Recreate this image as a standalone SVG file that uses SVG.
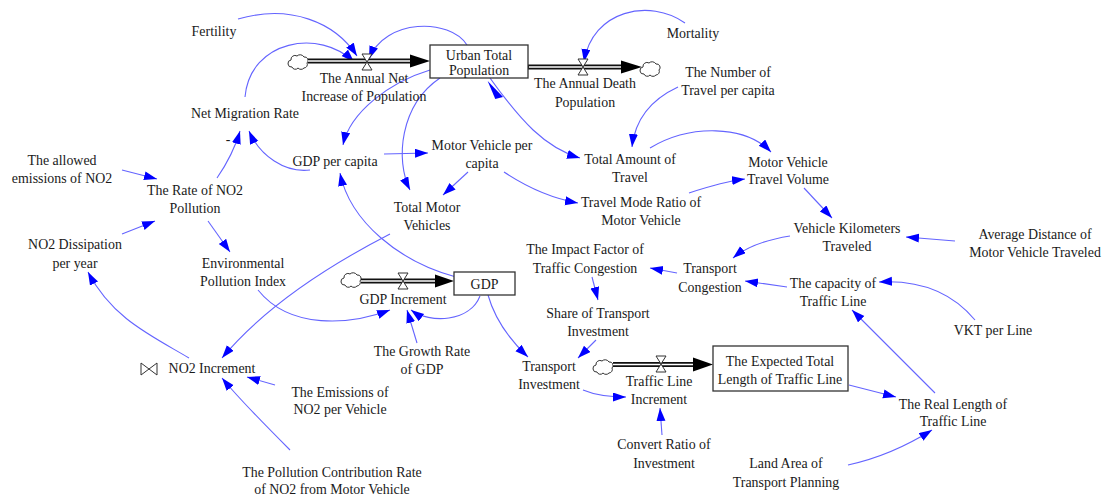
<svg xmlns="http://www.w3.org/2000/svg" width="1107" height="500" viewBox="0 0 1107 500">
<style>
text{font-family:"Liberation Serif","Times New Roman",serif;font-size:13.9px;fill:#1a1a1a;text-anchor:middle}
.lk{fill:none;stroke:#6464ff;stroke-width:1.1;marker-end:url(#ah)}
.box{fill:#fff;stroke:#333;stroke-width:1.3}
.pipeo{fill:none;stroke:#111;stroke-width:5}
.pipei{fill:none;stroke:#fff;stroke-width:1.6}
.valve{fill:#fff;stroke:#333;stroke-width:1}
.cloud{fill:#fff;stroke:#333;stroke-width:1}
.fa{fill:#000}
</style>
<defs>
<marker id="ah" markerUnits="userSpaceOnUse" markerWidth="14" markerHeight="10" refX="13" refY="4.5" orient="auto">
<path d="M0,0 L13,4.5 L0,9 Z" fill="#0000ff"/>
</marker>
<path id="cl" class="cloud" d="M-7,5 a3.5,3.5 0 0 1 -1,-7 a4,4 0 0 1 6,-4 a4.5,4.5 0 0 1 7,1 a3.5,3.5 0 0 1 3,6 a3.5,3.5 0 0 1 -3,5 a4,4 0 0 1 -6,0 a3.5,3.5 0 0 1 -6,-1 Z"/>
<path id="vl" class="valve" d="M-5,-8 H5 L-5,8 H5 Z"/>
</defs>

<g id="connectors">
<path class="lk" d="M238,19 C290,4 335,22 357,56"/>
<path class="lk" d="M245,97 C250,40 320,28 354,62"/>
<path class="lk" d="M467,45 C450,18 385,18 369,59"/>
<path class="lk" d="M685,23 C650,-2 592,10 584,62"/>
<path class="lk" d="M490,78 C520,120 545,148 580,158"/>
<path d="M489,80 L502,98 L494,99 Z" fill="#0000ff" transform="rotate(-8 495 90)"/>
<path class="lk" d="M430,70 C390,82 350,112 343,145"/>
<path class="lk" d="M440,78 C400,105 395,160 410,190"/>
<path class="lk" d="M384,154 L428,153"/>
<path class="lk" d="M310,170 C285,173 260,156 249,131"/>
<path class="lk" d="M217,178 C226,165 235,148 240,131"/>
<path class="lk" d="M122,170 L157,179"/>
<path class="lk" d="M122,234 L155,221"/>
<path class="lk" d="M208,221 L230,252"/>
<path class="lk" d="M189,358 C150,335 112,318 88,272"/>
<path class="lk" d="M258,290 C290,330 350,325 390,310"/>
<path class="lk" d="M390,234 C320,270 262,310 222,358"/>
<path class="lk" d="M275,385 L247,377"/>
<path class="lk" d="M290,450 C265,425 240,400 222,378"/>
<path class="lk" d="M456,277 C400,262 350,222 340,173"/>
<path class="lk" d="M480,296 C470,322 430,324 411,310"/>
<path class="lk" d="M417,343 L407,310"/>
<path class="lk" d="M488,295 C495,320 510,340 528,357"/>
<path class="lk" d="M596,340 L578,358"/>
<path class="lk" d="M592,277 L598,300"/>
<path class="lk" d="M677,273 L650,268"/>
<path class="lk" d="M790,236 C765,240 745,248 733,258"/>
<path class="lk" d="M787,287 L745,281"/>
<path class="lk" d="M955,241 L906,237"/>
<path class="lk" d="M804,188 L832,218"/>
<path class="lk" d="M689,193 C710,186 728,181 745,179"/>
<path class="lk" d="M650,148 C690,124 745,125 771,152"/>
<path class="lk" d="M678,87 C650,100 635,120 632,147"/>
<path class="lk" d="M468,172 L443,195"/>
<path class="lk" d="M504,172 C525,186 550,198 578,203"/>
<path class="lk" d="M848,465 C880,458 905,447 932,430"/>
<path class="lk" d="M849,385 L896,397"/>
<path class="lk" d="M935,393 L852,310"/>
<path class="lk" d="M975,320 C950,290 915,280 879,282"/>
<path class="lk" d="M583,390 C595,395 610,397 626,397"/>
<path class="lk" d="M662,435 L660,408"/>
<text x="228" y="144">-</text>
</g>

<g id="flow-net-increase">
<use href="#cl" x="299" y="62"/>
<path class="pipeo" d="M308,61 H412"/>
<path class="pipei" d="M308,61 H412"/>
<path class="fa" d="M410,54.5 L430,61 L410,67.5 Z"/>
<use href="#vl" x="367" y="62"/>
</g>
<g id="flow-death">
<path class="pipeo" d="M528,67 H623"/>
<path class="pipei" d="M529,67 H623"/>
<path class="fa" d="M621,60.5 L642,67 L621,73.5 Z"/>
<use href="#cl" x="651" y="69"/>
<use href="#vl" x="583" y="67"/>
</g>
<g id="flow-gdp">
<use href="#cl" x="352" y="280"/>
<path class="pipeo" d="M361,281 H437"/>
<path class="pipei" d="M361,281 H437"/>
<path class="fa" d="M435,274.5 L454,281 L435,287.5 Z"/>
<use href="#vl" x="403" y="281"/>
</g>
<g id="flow-traffic">
<use href="#cl" x="604" y="367"/>
<path class="pipeo" d="M613,364.5 H695"/>
<path class="pipei" d="M613,364.5 H695"/>
<path class="fa" d="M693,357.5 L713,364.5 L693,371.5 Z"/>
<use href="#vl" x="661" y="364"/>
</g>

<g id="urban-total-population"><rect class="box" x="430" y="45" width="98" height="33"/><text x="479" y="60">Urban Total</text><text x="479" y="75">Population</text></g>
<g id="gdp"><rect class="box" x="454" y="272" width="61" height="23"/><text x="484.5" y="288.5">GDP</text></g>
<g id="expected-length"><rect class="box" x="713" y="346" width="135" height="45"/><text x="780" y="366">The Expected Total</text><text x="780" y="384">Length of Traffic Line</text></g>

<g id="fertility"><text x="214" y="36">Fertility</text></g>
<g id="annual-net-increase"><text x="364" y="83">The Annual Net</text><text x="364" y="101">Increase of Population</text></g>
<g id="annual-death"><text x="585" y="88">The Annual Death</text><text x="585" y="107">Population</text></g>
<g id="mortality"><text x="693" y="38">Mortality</text></g>
<g id="travel-per-capita"><text x="728" y="77">The Number of</text><text x="728" y="95">Travel per capita</text></g>
<g id="net-migration"><text x="245" y="118">Net Migration Rate</text></g>
<g id="allowed-emissions"><text x="62" y="165">The allowed</text><text x="62" y="183">emissions of NO2</text></g>
<g id="rate-no2"><text x="195" y="195">The Rate of NO2</text><text x="195" y="213">Pollution</text></g>
<g id="no2-dissipation"><text x="75" y="249">NO2 Dissipation</text><text x="75" y="268">per year</text></g>
<g id="env-pollution"><text x="243" y="268">Environmental</text><text x="243" y="286">Pollution Index</text></g>
<g id="gdp-per-capita"><text x="335" y="166">GDP per capita</text></g>
<g id="mv-per-capita"><text x="482" y="150">Motor Vehicle per</text><text x="482" y="168">capita</text></g>
<g id="total-travel"><text x="630" y="164">Total Amount of</text><text x="630" y="182">Travel</text></g>
<g id="total-mv"><text x="427" y="212">Total Motor</text><text x="427" y="230">Vehicles</text></g>
<g id="mode-ratio"><text x="641" y="207">Travel Mode Ratio of</text><text x="641" y="225">Motor Vehicle</text></g>
<g id="mv-travel-volume"><text x="788" y="167">Motor Vehicle</text><text x="788" y="184">Travel Volume</text></g>
<g id="vkt"><text x="847" y="233">Vehicle Kilometers</text><text x="847" y="251">Traveled</text></g>
<g id="avg-distance"><text x="1035" y="239">Average Distance of</text><text x="1035" y="257">Motor Vehicle Traveled</text></g>
<g id="impact-factor"><text x="585" y="254">The Impact Factor of</text><text x="585" y="273">Traffic Congestion</text></g>
<g id="transport-congestion"><text x="710" y="273">Transport</text><text x="710" y="292">Congestion</text></g>
<g id="capacity"><text x="833" y="288">The capacity of</text><text x="833" y="306">Traffic Line</text></g>
<g id="gdp-increment"><text x="403" y="304">GDP Increment</text></g>
<g id="vkt-per-line"><text x="993" y="335">VKT per Line</text></g>
<g id="share-investment"><text x="598" y="318">Share of Transport</text><text x="598" y="336">Investment</text></g>
<g id="transport-investment"><text x="549" y="371">Transport</text><text x="549" y="389">Investment</text></g>
<g id="traffic-increment"><text x="659" y="386">Traffic Line</text><text x="659" y="404">Increment</text></g>
<g id="real-length"><text x="953" y="409">The Real Length of</text><text x="953" y="426">Traffic Line</text></g>
<g id="convert-ratio"><text x="664" y="449">Convert Ratio of</text><text x="664" y="468">Investment</text></g>
<g id="land-area"><text x="786" y="468">Land Area of</text><text x="786" y="487">Transport Planning</text></g>
<g id="no2-increment"><path class="valve" d="M141,363 V375 L157,363 V375 Z"/><text x="212" y="373">NO2 Increment</text></g>
<g id="emissions-per-vehicle"><text x="340" y="397">The Emissions of</text><text x="340" y="414">NO2 per Vehicle</text></g>
<g id="growth-rate-gdp"><text x="422" y="356">The Growth Rate</text><text x="422" y="374">of GDP</text></g>
<g id="pollution-contribution"><text x="332" y="477">The Pollution Contribution Rate</text><text x="332" y="494">of NO2 from Motor Vehicle</text></g>
</svg>
